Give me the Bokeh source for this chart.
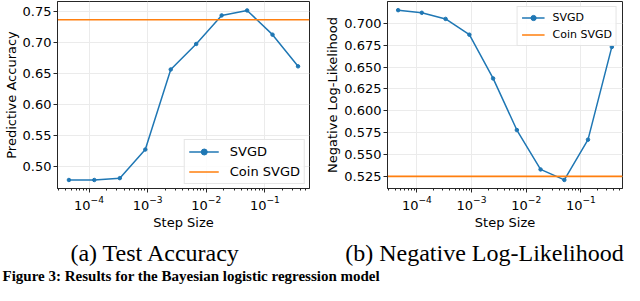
from bokeh.plotting import figure
from bokeh.models import Range1d, FixedTicker, PrintfTickFormatter, Legend, LegendItem, LogTicker
from bokeh.layouts import column, row
from bokeh.embed import file_html
from bokeh.resources import INLINE
from bokeh.core.properties import value

# ---------------- data ----------------
step_size = [4.54e-5, 1.23e-4, 3.35e-4, 9.12e-4, 2.48e-3, 6.74e-3, 1.83e-2, 4.98e-2, 0.135, 0.368]
acc_svgd = [0.479, 0.479, 0.482, 0.528, 0.657, 0.698, 0.744, 0.752, 0.713, 0.662]
acc_coin = 0.737
nll_svgd = [0.715, 0.712, 0.705, 0.687, 0.637, 0.578, 0.533, 0.521, 0.567, 0.673]
nll_coin = 0.525
acc_ticks = [0.50, 0.55, 0.60, 0.65, 0.70, 0.75]
nll_ticks = [0.525, 0.550, 0.575, 0.600, 0.625, 0.650, 0.675, 0.700]
x_ticks = [1e-4, 1e-3, 1e-2, 1e-1]
series_labels = ["SVGD", "Coin SVGD"]
y_labels = ["Predictive Accuracy", "Negative Log-Likelihood"]
x_label = "Step Size"
captions = ["(a) Test Accuracy", "(b) Negative Log-Likelihood"]
figure_caption = "Figure 3: Results for the Bayesian logistic regression model"

BLUE = "#1f77b4"
ORANGE = "#ff7f0e"
FONT = "DejaVu Sans"
X_RANGE = (2.9e-5, 0.577)
PANEL_H = 232


def make_panel(width, yvals, coin, yticks, yfmt, yrange, ylabel, border_right, leg):
    p = figure(width=width, height=PANEL_H, x_axis_type="log",
               x_range=Range1d(*X_RANGE), y_range=Range1d(*yrange),
               output_backend="svg", toolbar_location=None,
               min_border_left=0, min_border_right=border_right,
               min_border_top=1, min_border_bottom=0)
    p.background_fill_color = "white"
    p.border_fill_color = "white"
    p.outline_line_color = "#262626"
    p.outline_line_width = 1

    ln = p.line(step_size, yvals, line_color=BLUE, line_width=1.5)
    sc = p.scatter(step_size, yvals, size=3.5, color=BLUE)
    cl = p.line(list(X_RANGE), [coin, coin], line_color=ORANGE, line_width=1.6)

    p.xaxis.ticker = LogTicker(num_minor_ticks=10, desired_num_ticks=4)
    p.yaxis.ticker = FixedTicker(ticks=yticks)
    p.yaxis.formatter = PrintfTickFormatter(format=yfmt)
    for ax in (p.xaxis[0], p.yaxis[0]):
        ax.axis_line_color = "#262626"
        ax.major_tick_line_color = "#262626"
        ax.major_tick_out = 4
        ax.major_tick_in = 0
        ax.major_label_text_font = FONT
        ax.major_label_text_font_size = "13px"
        ax.major_label_text_color = "black"
        ax.major_label_standoff = 2
        ax.axis_label_text_font = FONT
        ax.axis_label_text_font_size = "13px"
        ax.axis_label_text_font_style = "normal"
        ax.axis_label_text_color = "black"
        ax.axis_label_standoff = 1
    p.xaxis.major_label_standoff = 3
    p.xaxis.axis_label_standoff = 2
    p.xaxis.minor_tick_line_color = "#262626"
    p.xaxis.minor_tick_out = 2
    p.xaxis.minor_tick_in = 0
    p.yaxis.minor_tick_line_color = None
    p.xaxis.axis_label = x_label
    p.yaxis.axis_label = ylabel

    p.xgrid.ticker = FixedTicker(ticks=x_ticks)
    p.xgrid.grid_line_color = "#ebebeb"
    p.ygrid.grid_line_color = "#ebebeb"

    legend = Legend(items=[LegendItem(label=series_labels[0], renderers=[ln, sc]),
                           LegendItem(label=series_labels[1], renderers=[cl])],
                    location=leg["loc"])
    legend.label_text_font = FONT
    legend.label_text_font_size = leg["font"]
    legend.label_text_color = "black"
    legend.glyph_width = leg["gw"]
    legend.glyph_height = leg["h"]
    legend.label_height = leg["h"]
    legend.spacing = leg["spacing"]
    legend.padding = leg["pad"]
    legend.margin = leg["margin"]
    legend.label_standoff = leg["standoff"]
    legend.border_line_color = "#cccccc"
    legend.border_line_width = 1
    legend.background_fill_alpha = 0.85
    p.add_layout(legend)
    return p


p1 = make_panel(322, acc_svgd, acc_coin, acc_ticks, "%.2f", (0.4653, 0.7664),
                y_labels[0], 13,
                dict(loc="bottom_right", font="13px", gw=30, h=15, spacing=5,
                     pad=4, margin=4, standoff=11))
p2 = make_panel(302, nll_svgd, nll_coin, nll_ticks, "%.3f", (0.5112, 0.7249),
                y_labels[1], 2,
                dict(loc="top_right", font="11px", gw=23, h=13, spacing=4,
                     pad=4, margin=5, standoff=8))

CAP_H = 285 - PANEL_H
cap = figure(width=624, height=CAP_H, x_range=Range1d(0, 624),
             y_range=Range1d(PANEL_H + CAP_H, PANEL_H),
             output_backend="svg", toolbar_location=None,
             min_border=0, min_border_left=0, min_border_right=0,
             min_border_top=0, min_border_bottom=0)
cap.axis.visible = False
cap.grid.visible = False
cap.outline_line_color = None
cap.text(x=[155, 484], y=[252, 252], text=captions,
         text_font=value("Liberation Serif"), text_font_size="24px",
         text_align="center", text_baseline="middle", text_color="black")
cap.text(x=[2], y=[283], text=[figure_caption],
         text_font=value("Liberation Serif"), text_font_size="15px",
         text_font_style="bold", text_align="left", text_baseline="bottom",
         text_color="black")

layout = column(row(p1, p2), cap)
open("out.html", "w").write(file_html(layout, INLINE))
